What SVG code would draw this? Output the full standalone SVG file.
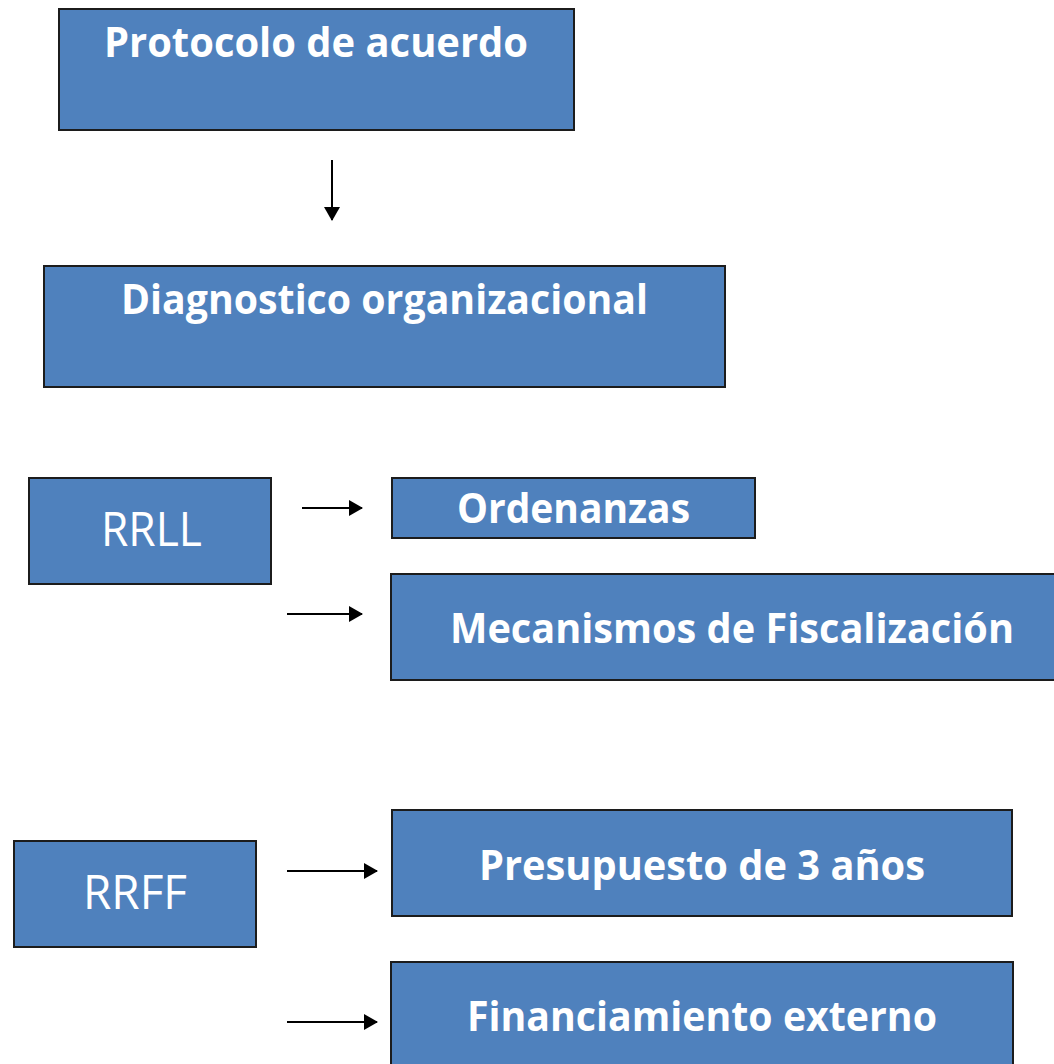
<svg xmlns="http://www.w3.org/2000/svg" width="1054" height="1064" viewBox="0 0 1054 1064">
<style>
.box{fill:#4F81BD;stroke:#1c1c1c;stroke-width:2}
.t{fill:#ffffff;font-family:"Open Sans","Liberation Sans",sans-serif;text-anchor:middle}
.b{font-weight:bold;font-size:42px}
.r{font-weight:normal;font-size:47px}
.c{stroke:#000;stroke-width:2;fill:none}
</style>
<defs>
<marker id="ah" markerWidth="14" markerHeight="16" refX="13" refY="8" orient="auto" markerUnits="userSpaceOnUse">
<path d="M0,0 L14,8 L0,16 Z" fill="#000"/>
</marker>
</defs>
<rect width="1054" height="1064" fill="#ffffff"/>
<g id="connectors">
<line class="c" x1="332" y1="160" x2="332" y2="220" marker-end="url(#ah)"/>
<line class="c" x1="302" y1="508" x2="362" y2="508" marker-end="url(#ah)"/>
<line class="c" x1="287" y1="614" x2="362" y2="614" marker-end="url(#ah)"/>
<line class="c" x1="287" y1="871" x2="377" y2="871" marker-end="url(#ah)"/>
<line class="c" x1="287" y1="1022" x2="377" y2="1022" marker-end="url(#ah)"/>
</g>
<g id="protocolo">
<rect class="box" x="59" y="9" width="515" height="121"/>
<text class="t b" x="316" y="57" textLength="424" lengthAdjust="spacingAndGlyphs">Protocolo de acuerdo</text>
</g>
<g id="diagnostico">
<rect class="box" x="44" y="266" width="681" height="121"/>
<text class="t b" x="384.5" y="314" textLength="527" lengthAdjust="spacingAndGlyphs">Diagnostico organizacional</text>
</g>
<g id="rrll">
<rect class="box" x="29" y="478" width="242" height="106"/>
<text class="t r" x="151.5" y="546" textLength="101" lengthAdjust="spacingAndGlyphs">RRLL</text>
</g>
<g id="ordenanzas">
<rect class="box" x="392" y="478" width="363" height="60"/>
<text class="t b" x="573.5" y="523" textLength="233" lengthAdjust="spacingAndGlyphs">Ordenanzas</text>
</g>
<g id="mecanismos">
<rect class="box" x="391" y="574" width="670" height="106"/>
<text class="t b" x="732" y="643" textLength="564" lengthAdjust="spacingAndGlyphs">Mecanismos de Fiscalización</text>
</g>
<g id="rrff">
<rect class="box" x="14" y="841" width="242" height="106"/>
<text class="t r" x="135" y="909" textLength="104" lengthAdjust="spacingAndGlyphs">RRFF</text>
</g>
<g id="presupuesto">
<rect class="box" x="392" y="810" width="620" height="106"/>
<text class="t b" x="702" y="880" textLength="446" lengthAdjust="spacingAndGlyphs">Presupuesto de 3 años</text>
</g>
<g id="financiamiento">
<rect class="box" x="391" y="962" width="622" height="110"/>
<text class="t b" x="702" y="1031" textLength="470" lengthAdjust="spacingAndGlyphs">Financiamiento externo</text>
</g>
</svg>
